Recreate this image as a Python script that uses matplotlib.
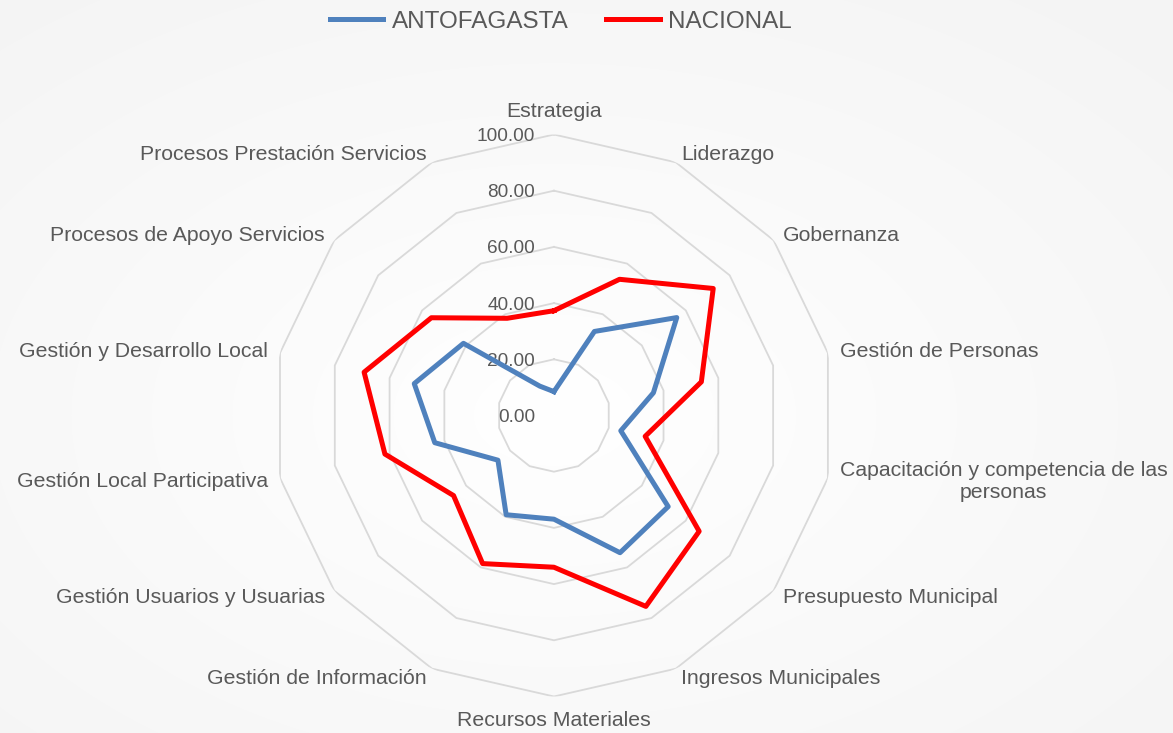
import numpy as np
import matplotlib
matplotlib.use("Agg")
import matplotlib.pyplot as plt

CATEGORIES = [
    "Estrategia",
    "Liderazgo",
    "Gobernanza",
    "Gestión de Personas",
    "Capacitación y competencia de las\npersonas",
    "Presupuesto Municipal",
    "Ingresos Municipales",
    "Recursos Materiales",
    "Gestión de Información",
    "Gestión Usuarios y Usuarias",
    "Gestión Local Participativa",
    "Gestión y Desarrollo Local",
    "Procesos de Apoyo Servicios",
    "Procesos Prestación Servicios",
]

ANTOFAGASTA = [8.5, 33.2, 55.9, 36.3, 24.4, 52.0, 54.2,
               36.9, 39.2, 25.5, 43.5, 51.0, 41.2, 11.6]
NACIONAL = [37.3, 53.8, 72.5, 53.8, 33.3, 66.1, 75.4,
            54.0, 58.5, 45.7, 61.7, 69.3, 55.8, 38.4]

RINGS = [0, 20, 40, 60, 80, 100]

TEXT_COLOR = "#595959"
GRID_COLOR = "#d9d9d9"
BLUE = "#4f81bd"
RED = "#ff0000"

plt.rcParams["font.family"] = ["Liberation Sans", "DejaVu Sans"]

fig = plt.figure(figsize=(11.73, 7.33), dpi=100)

# faint radial background
bg = fig.add_axes([0, 0, 1, 1], zorder=-10)
yy, xx = np.mgrid[0:733, 0:1173]
dist = np.hypot((xx - 554) / 1173, (yy - 415) / 733)
shade = 1.0 - 0.04 * np.clip(dist / 0.7, 0, 1)
bg.imshow(np.dstack([shade] * 3), extent=[0, 1, 0, 1], aspect="auto")
bg.axis("off")

ax = fig.add_axes([0.2327, 0.0498, 0.4791, 0.7667], projection="polar")
ax.set_facecolor("none")
ax.set_theta_zero_location("N")
ax.set_theta_direction(-1)
ax.set_ylim(0, 100)
ax.grid(False)
ax.spines["polar"].set_visible(False)
ax.set_xticks([])
ax.set_yticks([])

n = len(CATEGORIES)
angles = np.linspace(0, 2 * np.pi, n, endpoint=False)
closed = np.append(angles, angles[0])

for r in RINGS[1:]:
    ax.plot(closed, [r] * (n + 1), color=GRID_COLOR, linewidth=1.3, zorder=1)

for r in RINGS:
    ax.annotate(f"{r:.2f}", xy=(0, r), xytext=(-19, -2),
                textcoords="offset pixels", ha="right", va="center",
                fontsize=13.7, color=TEXT_COLOR, zorder=2)

ax.plot(closed, ANTOFAGASTA + ANTOFAGASTA[:1], color=BLUE,
        linewidth=3.6, label="ANTOFAGASTA", zorder=3)
ax.plot(closed, NACIONAL + NACIONAL[:1], color=RED,
        linewidth=3.6, label="NACIONAL", zorder=4)

for ang, name in zip(angles, CATEGORIES):
    s, c = np.sin(ang), np.cos(ang)
    dy = 10 * c - 1
    if abs(s) < 1e-6:
        ha = "center"
        va = "bottom" if c > 0 else "top"
        dy = 14 if c > 0 else -15
    elif s > 0:
        ha, va = "left", "center"
    else:
        ha, va = "right", "center"
    ax.annotate(name, xy=(ang, 100), xytext=(12 * s, dy),
                textcoords="offset pixels", ha=ha, va=va,
                multialignment="center", fontsize=15.3,
                color=TEXT_COLOR, annotation_clip=False)

fig.legend(loc="upper center", bbox_to_anchor=(0.478, 1.015), ncol=2,
           frameon=False, fontsize=17.5, handlelength=2.2,
           handletextpad=0.35, columnspacing=1.55, labelcolor=TEXT_COLOR)

fig.savefig("out.png", dpi=100)
